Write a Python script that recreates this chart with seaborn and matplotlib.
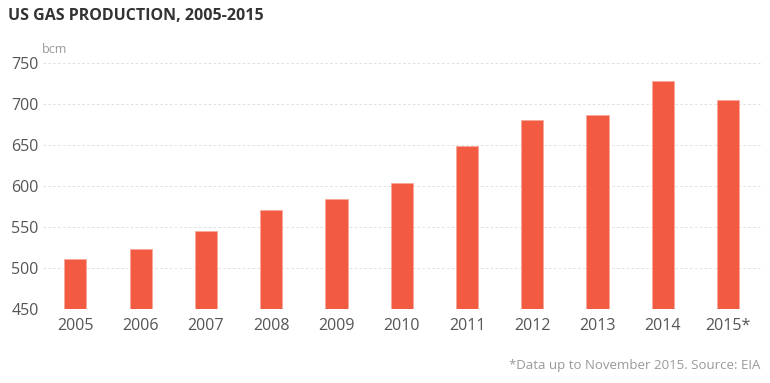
import pandas as pd
import matplotlib.pyplot as plt
import seaborn as sns

years = ['2005', '2006', '2007', '2008', '2009', '2010', '2011', '2012', '2013', '2014', '2015*']
production_bcm = [511, 524, 546, 571, 585, 604, 649, 681, 687, 729, 705]
y_ticks = [450, 500, 550, 600, 650, 700, 750]

df = pd.DataFrame({'year': years, 'bcm': production_bcm})

sns.set_theme(style="white")
plt.rcParams['font.family'] = ['Open Sans', 'DejaVu Sans']

fig = plt.figure(figsize=(7.7, 3.83), dpi=100)
ax = fig.add_axes([0.0555, 0.1924, 0.9325, 0.6423])

sns.barplot(data=df, x='year', y='bcm', color='#F25B42', saturation=1,
            width=0.34, edgecolor='#F7A898', linewidth=0.6, ax=ax)

ax.set_ylim(450, 750)
ax.set_xlim(-0.5, 10.5)
ax.set_yticks(y_ticks)
ax.yaxis.grid(True, linestyle=(0, (2.5, 2.5)), color='#dedede', linewidth=0.7)
ax.set_axisbelow(True)
ax.set_xlabel('')
ax.set_ylabel('')
sns.despine(ax=ax, left=True, bottom=True)
ax.tick_params(axis='x', length=0, pad=6, labelsize=11.5, labelcolor='#555555')
ax.tick_params(axis='y', length=0, pad=3, labelsize=11.5, labelcolor='#555555')

fig.text(0.011, 0.957, 'US GAS PRODUCTION, 2005-2015', fontsize=11.5, fontweight='bold',
         color='#333333', ha='left', va='center')
fig.text(0.054, 0.872, 'bcm', fontsize=9, color='#999999', ha='left', va='center')
fig.text(0.988, 0.046, '*Data up to November 2015. Source: EIA', fontsize=9.5,
         color='#999999', ha='right', va='center')

fig.savefig('out.png', dpi=100)
